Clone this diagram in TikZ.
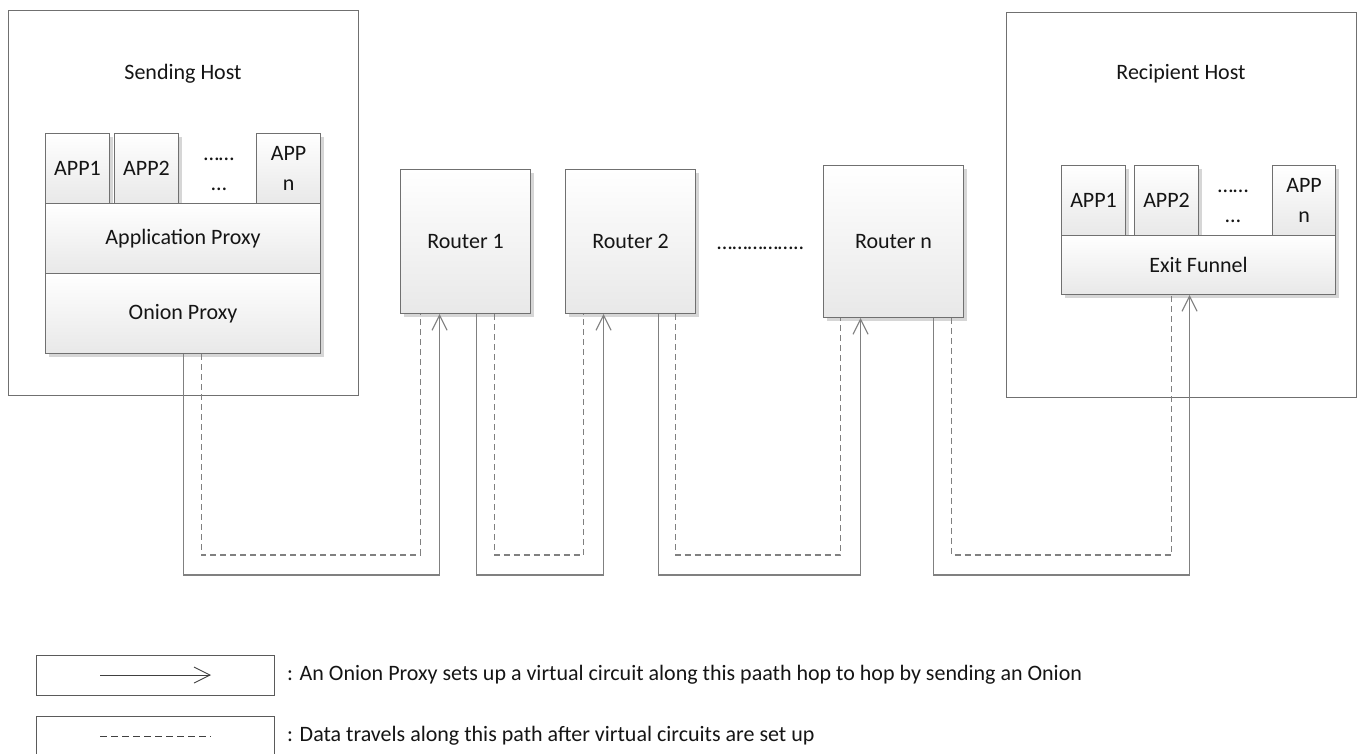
\documentclass[tikz,border=0pt]{standalone}
\usepackage{fontspec}
\setmainfont{Carlito}
\usetikzlibrary{arrows.meta,shadows}
\definecolor{edge}{HTML}{808080}
\definecolor{frame}{HTML}{707070}
\definecolor{legframe}{HTML}{5A5A5A}
\definecolor{ink}{HTML}{151515}

\begin{document}
\begin{tikzpicture}[x=1pt,y=-1pt,
  font=\fontsize{22}{30}\selectfont, text=ink,
  host/.style={draw=frame, line width=1.1pt, fill=white, anchor=north west, inner sep=0pt},
  blk/.style={draw=frame, line width=1.1pt, top color=white, bottom color=black!9,
    anchor=north west, inner sep=0pt, align=center,
    drop shadow={shadow xshift=3pt, shadow yshift=-3pt, fill=black!16, opacity=1}},
  legbox/.style={draw=legframe, line width=1pt, fill=white, anchor=north west, inner sep=0pt},
  label/.style={inner sep=0pt},
  setup/.style={draw=edge, line width=1.1pt, -{Straight Barb[length=15pt,width=15pt]}},
  data/.style={draw=edge, line width=1.1pt, dash pattern=on 6pt off 4pt},
]
\useasboundingbox (0,0) rectangle (1362,753);

% ---------- sending host ----------
\node[host, minimum width=350pt, minimum height=385pt] (sh) at (8,10) {};
\node[label] (shl) at (183,74) {Sending Host};
\node[blk, minimum width=64pt, minimum height=70pt] (sa1) at (45,133) {APP1};
\node[blk, minimum width=64pt, minimum height=70pt] (sa2) at (114,133) {APP2};
\node[blk, minimum width=64pt, minimum height=70pt] (san) at (256,133) {APP\\n};
\node[label, anchor=base] (sd1) at (219,160) {……};
\node[label, anchor=base] (sd2) at (219,190) {…};
\node[blk, minimum width=275pt, minimum height=70pt] (ap) at (45,203) {Application Proxy};
\node[blk, minimum width=275pt, minimum height=80pt] (op) at (45,273) {Onion Proxy};

% ---------- routers ----------
\node[blk, minimum width=130pt, minimum height=144pt] (r1) at (400,169) {Router 1};
\node[blk, minimum width=130pt, minimum height=144pt] (r2) at (565,169) {Router 2};
\node[label, anchor=base west] (rdots) at (717,249) {……………..};
\node[blk, minimum width=140pt, minimum height=152pt] (rn) at (823,165) {Router n};

% ---------- recipient host ----------
\node[host, minimum width=350pt, minimum height=385pt] (rh) at (1006,12) {};
\node[label] (rhl) at (1181,74) {Recipient Host};
\node[blk, minimum width=64pt, minimum height=70pt] (ra1) at (1061,165) {APP1};
\node[blk, minimum width=64pt, minimum height=70pt] (ra2) at (1134,165) {APP2};
\node[blk, minimum width=63pt, minimum height=70pt] (ran) at (1272,165) {APP\\n};
\node[label, anchor=base] (rd1) at (1233,192) {……};
\node[label, anchor=base] (rd2) at (1233,222) {…};
\node[blk, minimum width=274pt, minimum height=59pt] (ef) at (1061,235) {Exit Funnel};

% ---------- ports on the box edges ----------
\coordinate (lo) at (0,575);
\coordinate (ld) at (0,555);
\coordinate (opS) at ([xshift=0pt]op.south);
\coordinate (opD) at ([xshift=18pt]op.south);
\coordinate (r1iS) at ([xshift=-26pt]r1.south);
\coordinate (r1iD) at ([xshift=-45pt]r1.south);
\coordinate (r1oS) at ([xshift=11pt]r1.south);
\coordinate (r1oD) at ([xshift=29pt]r1.south);
\coordinate (r2iS) at ([xshift=-27pt]r2.south);
\coordinate (r2iD) at ([xshift=-47pt]r2.south);
\coordinate (r2oS) at ([xshift=28pt]r2.south);
\coordinate (r2oD) at ([xshift=45pt]r2.south);
\coordinate (rniS) at ([xshift=-33pt]rn.south);
\coordinate (rniD) at ([xshift=-53pt]rn.south);
\coordinate (rnoS) at ([xshift=40pt]rn.south);
\coordinate (rnoD) at ([xshift=58pt]rn.south);
\coordinate (efS) at ([xshift=-9pt]ef.south);
\coordinate (efD) at ([xshift=-27pt]ef.south);

% ---------- circuit set-up (solid) ----------
\draw[setup] (opS) -- (opS |- lo) -| (r1iS);
\draw[setup] (r1oS) -- (r1oS |- lo) -| (r2iS);
\draw[setup] (r2oS) -- (r2oS |- lo) -| (rniS);
\draw[setup] (rnoS) -- (rnoS |- lo) -| (efS);

% ---------- data path (dashed) ----------
\draw[data] (opD) -- (opD |- ld) -| (r1iD);
\draw[data] (r1oD) -- (r1oD |- ld) -| (r2iD);
\draw[data] (r2oD) -- (r2oD |- ld) -| (rniD);
\draw[data] (rnoD) -- (rnoD |- ld) -| (efD);

% ---------- legend ----------
\node[legbox, minimum width=238pt, minimum height=40pt] (lg1) at (36,655) {};
\coordinate (lg1a) at (100,675);
\coordinate (lg1b) at (211,675);
\draw[draw=black!75, line width=0.9pt, -{Straight Barb[length=16pt,width=16pt]}] (lg1a) -- (lg1b);
\node[label, anchor=west] (lt1) at (287,675) {: An Onion Proxy sets up a virtual circuit along this paath hop to hop by sending an Onion};

\node[legbox, minimum width=238pt, minimum height=50pt] (lg2) at (36,716) {};
\coordinate (lg2a) at (100,736);
\coordinate (lg2b) at (211,736);
\draw[draw=black!75, line width=0.9pt, dash pattern=on 7pt off 4pt] (lg2a) -- (lg2b);
\node[label, anchor=west] (lt2) at (287,736) {: Data travels along this path after virtual circuits are set up};
\end{tikzpicture}
\end{document}
